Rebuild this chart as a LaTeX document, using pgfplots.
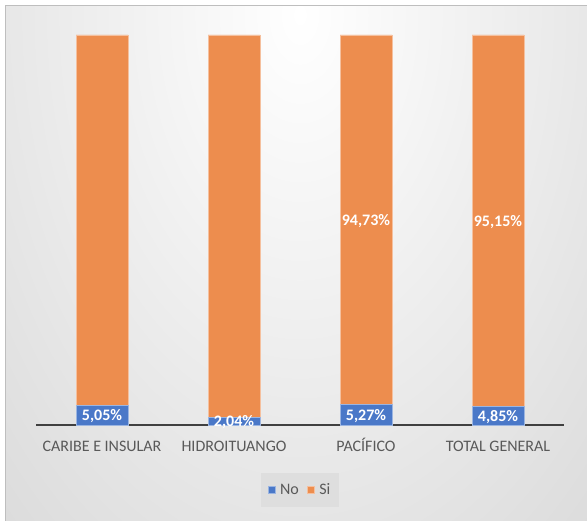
\documentclass[border=0pt]{standalone}
\usepackage{pgfplots}
\pgfplotsset{compat=1.18}
\usepackage{pgfplotstable}
\usepackage{fontspec}
\setmainfont{Carlito}
\definecolor{cblue}{RGB}{74,120,200}
\definecolor{corange}{RGB}{237,141,78}
\definecolor{txt}{RGB}{89,89,89}
\definecolor{axisc}{RGB}{64,64,64}
\definecolor{bgout}{RGB}{200,200,200}
\definecolor{framec}{RGB}{190,190,190}
\definecolor{legbg}{RGB}{222,222,222}

\pgfplotsset{sqlegend/.style={legend image code/.code={\draw[##1, line width=0.5pt] (0pt,-3.5pt) rectangle (7pt,3.5pt);}}}

\pgfplotstableread{
x no si
0 5.05 94.95
1 2.04 97.96
2 5.27 94.73
3 4.85 95.15
}\datatab

\pgfplotstableread{
x y label
0 2.525 5,05\%
1 1.02 2,04\%
2 2.635 5,27\%
3 2.425 4,85\%
2 52.635 94,73\%
3 52.425 95,15\%
}\labtab

\begin{document}
\begin{tikzpicture}
\useasboundingbox (0,0) rectangle (587pt,520pt);
\begin{scope}
\clip (5.5pt,-10pt) rectangle (600pt,514.5pt);
\shade[inner color=white, outer color=bgout] (300pt,505pt) ellipse (680pt and 1080pt);
\end{scope}
\draw[framec, line width=1pt] (5.5pt,-10pt) rectangle (600pt,514.5pt);

\begin{axis}[
  at={(36pt,95pt)}, anchor=south west,
  width=528pt, height=390pt, scale only axis,
  ybar stacked, bar width=52pt,
  xmin=-0.5, xmax=3.5, ymin=0, ymax=100,
  axis line style={draw=none},
  ytick=\empty,
  xtick={0,1,2,3},
  xticklabels={CARIBE E INSULAR, HIDROITUANGO, PACÍFICO, TOTAL GENERAL},
  major tick length=0pt,
  xticklabel style={font=\fontsize{16}{19}\selectfont, text=txt, anchor=base, yshift=-26.5pt},
  legend style={at={(0.5,-0.1667)}, anchor=center, draw=none, fill=legbg,
    legend columns=2, font=\fontsize{16}{19}\selectfont, text=txt,
    inner xsep=7pt, inner ysep=9pt,
    /tikz/every odd column/.append style={column sep=3pt},
    /tikz/every even column/.append style={column sep=6pt}},
]
\addplot[fill=cblue, draw=cblue!55!white, line width=0.8pt, sqlegend]
  table[x=x,y=no]{\datatab};
\addplot[fill=corange, draw=corange!55!white, line width=0.8pt, sqlegend]
  table[x=x,y=si]{\datatab};
\legend{No,Si}
\draw[axisc, line width=3pt] (rel axis cs:0,0) -- (rel axis cs:1,0);
\end{axis}

\begin{axis}[
  at={(36pt,95pt)}, anchor=south west,
  width=528pt, height=390pt, scale only axis,
  xmin=-0.5, xmax=3.5, ymin=0, ymax=100,
  hide axis, clip=false,
]
\addplot[draw=none, mark=none, nodes near coords, point meta=explicit symbolic,
  nodes near coords style={anchor=base, yshift=-5.5pt, font=\fontsize{16}{19}\selectfont\bfseries, text=white}]
  table[x=x,y=y,meta=label]{\labtab};
\end{axis}
\end{tikzpicture}
\end{document}
